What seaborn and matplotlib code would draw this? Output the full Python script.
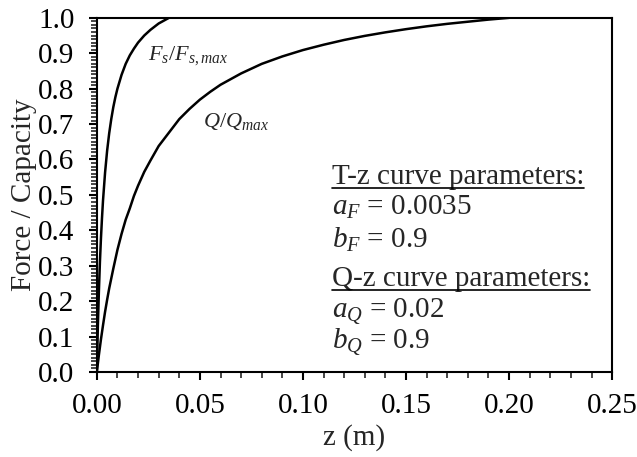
import numpy as np
import pandas as pd
import matplotlib
matplotlib.use("Agg")
import matplotlib.pyplot as plt
import seaborn as sns
from matplotlib.ticker import MultipleLocator, FormatStrFormatter

# values
z_skin = [0.0, 0.0005, 0.001, 0.0015, 0.002, 0.0025, 0.003, 0.004, 0.005, 0.006,
          0.007, 0.008, 0.009, 0.010, 0.012, 0.014, 0.016, 0.018, 0.020, 0.023,
          0.026, 0.030, 0.035]
f_skin = [0.0, 0.13, 0.227, 0.31, 0.377, 0.434, 0.484, 0.563, 0.625, 0.674,
          0.714, 0.748, 0.776, 0.80, 0.839, 0.870, 0.894, 0.913, 0.930, 0.950,
          0.966, 0.984, 1.0]

z_tip = [0.0, 0.001, 0.002, 0.003, 0.004, 0.005, 0.006, 0.008, 0.010, 0.012,
         0.014, 0.016, 0.018, 0.020, 0.023, 0.026, 0.030, 0.035, 0.040, 0.045,
         0.050, 0.055, 0.060, 0.070, 0.080, 0.090, 0.100, 0.110, 0.120, 0.130,
         0.140, 0.150, 0.160, 0.170, 0.180, 0.190, 0.200]
q_tip = [0.0, 0.048, 0.092, 0.132, 0.170, 0.204, 0.236, 0.292, 0.345, 0.390,
         0.430, 0.462, 0.497, 0.526, 0.565, 0.597, 0.638, 0.676, 0.714, 0.743,
         0.769, 0.791, 0.811, 0.843, 0.870, 0.891, 0.909, 0.924, 0.9375, 0.949,
         0.959, 0.968, 0.976, 0.983, 0.989, 0.995, 1.0]

param_lines = ["T-z curve parameters:", r"$a_F$ = 0.0035", r"$b_F$ = 0.9",
               "Q-z curve parameters:", r"$a_Q$ = 0.02", r"$b_Q$ = 0.9"]
param_y = [0.531, 0.444, 0.350, 0.243, 0.155, 0.068]

sns.set_style("ticks")
plt.rcParams['font.family'] = ['Liberation Serif', 'DejaVu Serif']
plt.rcParams['mathtext.fontset'] = 'custom'
plt.rcParams['mathtext.rm'] = 'Liberation Serif'
plt.rcParams['mathtext.it'] = 'Liberation Serif:italic'
plt.rcParams['mathtext.bf'] = 'Liberation Serif:bold:italic'

fig = plt.figure(figsize=(6.37, 4.57), dpi=100)
ax = fig.add_axes([0.152, 0.186, 0.809, 0.775])

df_skin = pd.DataFrame({"z": z_skin, "r": f_skin})
df_tip = pd.DataFrame({"z": z_tip, "r": q_tip})
sns.lineplot(data=df_skin, x="z", y="r", color="black", lw=1.8, ax=ax)
sns.lineplot(data=df_tip, x="z", y="r", color="black", lw=1.8, ax=ax)

ax.set_xlim(0, 0.25)
ax.set_ylim(0, 1.0)
ax.xaxis.set_major_locator(MultipleLocator(0.05))
ax.xaxis.set_minor_locator(MultipleLocator(0.01))
ax.yaxis.set_major_locator(MultipleLocator(0.1))
ax.yaxis.set_minor_locator(MultipleLocator(0.01))
ax.xaxis.set_major_formatter(FormatStrFormatter('%.2f'))
ax.yaxis.set_major_formatter(FormatStrFormatter('%.1f'))
ax.tick_params(which='major', direction='out', length=6, width=1.5, labelsize=21, colors='black')
ax.tick_params(which='minor', direction='out', length=4, width=1.2)
ax.tick_params(axis='y', which='major', pad=10)
ax.tick_params(axis='x', which='major', pad=9)
for s in ax.spines.values():
    s.set_linewidth(1.5)
    s.set_color('black')

ax.set_xlabel("z (m)", fontsize=21, labelpad=4)
ax.set_ylabel("Force / Capacity", fontsize=21, labelpad=1)

ax.text(0.0248, 0.881, r"$F_s/F_{s,max}$", fontsize=16)
ax.text(0.0515, 0.692, r"$Q/Q_{max}$", fontsize=16)

txts = []
for s, y in zip(param_lines, param_y):
    txts.append(ax.text(0.114, y, s, fontsize=21, va='baseline'))

# underline the two headers
fig.canvas.draw()
inv = fig.transFigure.inverted()
for t in (txts[0], txts[3]):
    bb = t.get_window_extent()
    (x0, y0), (x1, _) = inv.transform([[bb.x0, bb.y0], [bb.x1, bb.y1]])
    fig.add_artist(plt.Line2D([x0, x1], [y0 + 0.004, y0 + 0.004], color='black', lw=1.2))

fig.savefig("out.png", dpi=100)
